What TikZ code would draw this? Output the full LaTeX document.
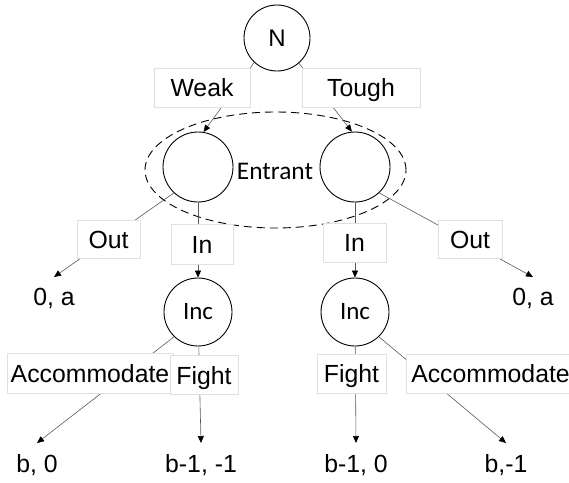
\documentclass[tikz,border=0pt]{standalone}
\usepackage{fontspec}
\setmainfont{Liberation Sans}
\newfontfamily\calibri{Carlito}
\usetikzlibrary{arrows.meta}

\begin{document}
\begin{tikzpicture}[x=1pt, y=-1pt,
            decision/.style={circle, draw, line width=0.9pt, inner sep=0pt, font=\calibri\fontsize{25}{29}\selectfont},
            choice/.style={rectangle, draw=black!12, fill=white, line width=0.6pt, minimum height=39pt, inner sep=0pt, text height=22pt, text depth=4pt, text centered, font=\fontsize{24.8}{29}\selectfont},
            payoff/.style={anchor=north, inner xsep=0pt, inner ysep=11pt, font=\fontsize{24.8}{29}\selectfont},
            branch/.style={draw=black!65, line width=0.6pt},
            arrow/.style={branch, -{Triangle[length=7pt, width=6pt, color=black]}}
        ]
            \useasboundingbox (0,0) rectangle (569,482);

            % nature and the entrant's information set
            \node[decision, minimum size=66pt, font=\fontsize{24}{28}\selectfont] (nature) at (277,38) {N};
            \node[decision, minimum size=70pt] (entweak) at (198,167) {};
            \node[decision, minimum size=70pt] (enttough) at (355,167) {};
            \node[font=\calibri\fontsize{25.4}{29}\selectfont] (entrant) at (275,171) {Entrant};
            \draw[dash pattern=on 8pt off 5pt, line width=0.9pt] (275.5,170) ellipse [x radius=130.5pt, y radius=58pt];

            % incumbent
            \node[decision, minimum size=68pt] (incweak) at (198,312) {Inc};
            \node[decision, minimum size=68pt] (inctough) at (355,312) {Inc};

            % payoffs
            \node[payoff] (outweak) at (54,277) {0, a};
            \node[payoff] (outtough) at (533,277) {0, a};
            \node[payoff] (accweak) at (37,443) {b, 0};
            \node[payoff] (fightweak) at (201,443) {b-1, -1};
            \node[payoff] (fighttough) at (356,443) {b-1, 0};
            \node[payoff] (acctough) at (506,443) {b,-1};

            % branches
            \draw[arrow] (nature.227) -- (entweak.81);
            \draw[arrow] (nature.-49) -- (enttough.95);
            \draw[arrow] (entweak.227) -- (outweak.north);
            \draw[arrow] (entweak) -- (incweak);
            \draw[arrow] (enttough) -- (inctough);
            \draw[arrow] (enttough.-47) -- (outtough.north);
            \draw[arrow] (incweak.226) -- (accweak.north);
            \draw[arrow] (incweak) -- (fightweak.north);
            \draw[arrow] (inctough) -- (fighttough.north);
            \draw[arrow] (inctough.-46) -- (acctough.north);

            % action labels
            \node[choice, minimum width=96pt] (weak) at (202,87.5) {Weak};
            \node[choice, minimum width=118pt] (tough) at (361,87.5) {Tough};
            \node[choice, minimum width=63pt, minimum height=38pt] (outw) at (108.5,239) {Out};
            \node[choice, minimum width=62pt, minimum height=40pt] (inw) at (202,244) {In};
            \node[choice, minimum width=63pt] (int) at (354.5,242.5) {In};
            \node[choice, minimum width=64pt, minimum height=38pt] (outt) at (470,239) {Out};
            \node[choice, minimum width=166pt, minimum height=40pt] (accw) at (90,373) {Accommodate};
            \node[choice, minimum width=68pt] (fightw) at (204,375) {Fight};
            \node[choice, minimum width=69pt] (fightt) at (351.5,373.5) {Fight};
            \node[choice, minimum width=168pt] (acct) at (490.5,373.5) {Accommodate};
        \end{tikzpicture}
\end{document}
